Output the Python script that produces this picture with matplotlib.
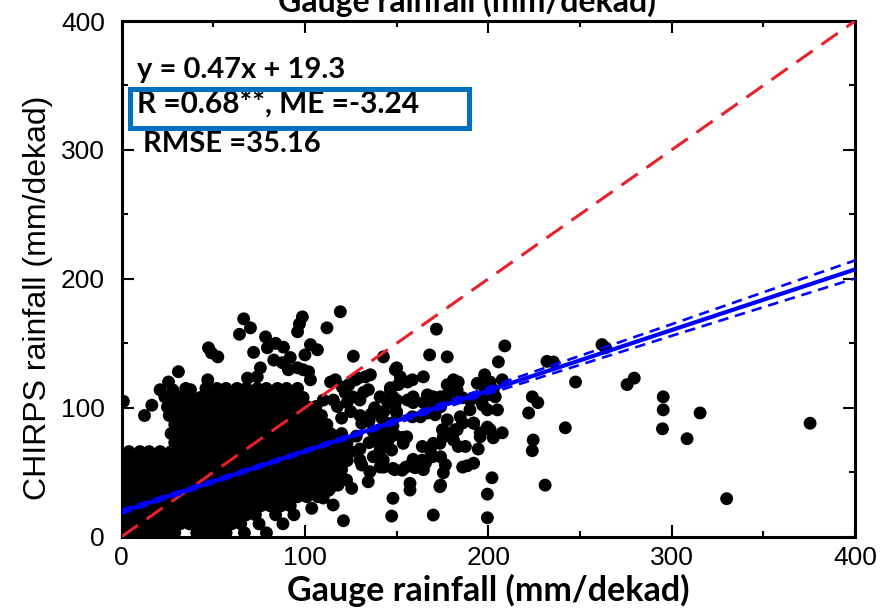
import numpy as np
import matplotlib
matplotlib.use("Agg")
import matplotlib.pyplot as plt
from matplotlib import font_manager
from matplotlib.patches import Rectangle
from matplotlib.ticker import MultipleLocator


# solid part of the cloud: gauge values read along each CHIRPS level (mm/dekad)
core_levels = [3, 10, 17, 24, 31, 38, 45, 52, 59, 66, 73, 80, 87, 94, 101, 108, 115]
core_gauge = [
    [2, 7, 13, 18, 24, 29, 41, 46, 51, 57, 67, 79],
    [4, 10, 15, 21, 27, 32, 37, 43, 48, 54, 60, 65, 75, 88],
    [2, 8, 13, 18, 24, 30, 35, 41, 46, 52, 57, 63, 68, 73, 84, 94],
    [4, 10, 16, 21, 26, 32, 37, 43, 48, 54, 60, 65, 70, 76, 81, 87, 92],
    [2, 7, 13, 18, 24, 29, 35, 40, 46, 52, 57, 62, 68, 74, 79, 85, 90, 96, 101, 107],
    [4, 10, 15, 21, 27, 32, 37, 43, 49, 54, 59, 65, 70, 76, 81, 87, 92, 98, 104, 109, 114],
    [2, 7, 13, 18, 24, 30, 35, 40, 46, 51, 57, 62, 68, 73, 79, 84, 90, 95, 101, 106, 112, 117],
    [4, 10, 15, 21, 26, 32, 38, 43, 48, 54, 60, 65, 71, 76, 81, 87, 93, 98, 103, 109, 114, 120],
    [2, 7, 13, 19, 24, 29, 35, 41, 46, 51, 57, 63, 68, 73, 79, 85, 90, 95, 101, 106, 112, 117, 123],
    [4, 10, 15, 21, 27, 32, 37, 43, 48, 54, 60, 65, 70, 76, 82, 87, 92, 98, 104, 109, 115, 120, 125],
    [29, 35, 40, 46, 51, 57, 62, 68, 74, 79, 84, 90, 95, 101, 107, 112, 118, 123],
    [27, 32, 38, 43, 49, 54, 59, 65, 71, 76, 81, 87, 92, 98, 103, 109, 114, 120],
    [29, 35, 40, 46, 52, 57, 62, 68, 73, 79, 84, 90, 95, 101, 106, 112],
    [26, 32, 37, 43, 48, 54, 59, 65, 70, 76, 82, 87, 93, 98, 104, 109],
    [30, 35, 41, 46, 51, 57, 63, 68, 73, 79, 84, 90, 96, 101, 106],
    [28, 38, 43, 49, 55, 60, 66, 71, 77, 82, 88, 93, 99],
    [35, 46, 52, 57, 63, 68, 74, 79, 85, 90, 96],
]

# single dots around the core (gauge, chirps)
scatter_pts = [
    (1, 105), (12.5, 94), (16.5, 102), (21, 114), (23.6, 108.5), (25.6, 120), (28, 113.8),
    (31.6, 108.5), (25, 100.6), (33, 100), (31, 128), (36, 110), (37.6, 114), (41.4, 106),
    (47, 121.7), (47.4, 146.5), (49, 142.6), (52.5, 139.5), (64.3, 157), (66.6, 169),
    (70.3, 162), (72, 143), (68.7, 123), (74, 124), (75.7, 131), (78.5, 155), (79.5, 146.5),
    (83, 137), (84, 150), (87.7, 135), (88.3, 147), (91, 129.5), (92, 139), (96, 131),
    (96, 159), (97, 165), (98.6, 170.5), (99, 129.5), (100, 141), (102, 128), (103, 149),
    (103, 121.7), (106.8, 145), (112, 162), (119.3, 174.5), (110, 106), (115.5, 106),
    (115.5, 120), (117.7, 101), (114, 120), (116.6, 121.7), (120.4, 116), (122, 111.6),
    (123, 104), (124, 118), (126, 108.5), (126.4, 140), (127.5, 121.7), (129, 123), (130, 106),
    (132, 112), (133, 124), (134.6, 114), (135.7, 125.6), (142.8, 139.5), (149.3, 129.5),
    (150, 131), (152, 124), (146.6, 115.5), (151, 118), (156, 120), (158.6, 121.7),
    (164.6, 124), (145, 106), (150, 106), (156, 106), (159, 108.5), (166.8, 110), (170, 108.5),
    (177.6, 110), (181, 121.7), (183, 114), (171.7, 161), (168, 141), (177.6, 139.5),
    (125, 97), (130, 94), (138, 100), (143, 97), (120, 92), (135, 90), (131, 88), (137, 82),
    (142, 92), (148, 86), (135, 73), (140, 76), (146, 78), (150, 97), (128, 78), (130, 68),
    (136, 95), (130, 59.5), (131, 55.6), (135.4, 50.4), (137.3, 62), (141, 54), (142.7, 59.5),
    (147.3, 67.2), (148, 53), (153, 51.6), (153.6, 72.4), (155.5, 77.5), (158.4, 56.8),
    (164, 59.4), (169.6, 62), (164, 70), (170, 72.4), (173.6, 72.4), (177.6, 80.6), (182, 83),
    (186, 88.2), (192, 88.2), (141, 70), (145.5, 75), (149, 79), (153, 77), (141, 67),
    (143, 54), (149, 52), (155, 54), (159, 60), (160, 53.5), (164.6, 52), (168.4, 67),
    (165.7, 57), (146.6, 114), (148, 108.5), (145, 104.6), (149, 102), (141, 108.5),
    (159, 104), (158.6, 93), (150, 96), (146.6, 88), (143, 83), (164.6, 104), (163, 93),
    (167, 96), (171, 94.6), (170, 101), (168.4, 108.5), (174, 100.8), (175, 83), (175.5, 77.5),
    (174, 62), (176.6, 55.8), (175.5, 49.6), (174, 40), (177.6, 90.7), (184.7, 93), (192, 88),
    (199.5, 98.4), (205, 98.4), (197, 102), (190, 98.4), (183, 83), (181, 75), (183.6, 70),
    (187.5, 70), (195.6, 77.5), (201, 83), (202.7, 76.7), (207.6, 80.6), (199.5, 85),
    (195.6, 80.6), (188.5, 55), (186, 54), (192, 57), (174, 108.5), (179, 107.8), (186, 107.8),
    (190, 106), (195.6, 106), (199.5, 110), (177.6, 117.8), (183.6, 120), (194, 119),
    (198, 115.5), (202.7, 114), (203.8, 108.5), (198, 125.6), (201, 120), (207.6, 121.7),
    (209, 148), (205.5, 135.6), (194.5, 68),
    (103.7, 22), (115.4, 24.6), (121, 12.4), (110, 30), (113, 36), (118, 40), (122.7, 44),
    (125.5, 37.5), (134.5, 42.6), (148, 29.8), (147.3, 16), (157.3, 36.2), (157.3, 41.4),
    (170, 16.8), (173.6, 38.8), (199.5, 14.7), (199.5, 33), (202, 45.7), (231, 40), (330, 29.5),
    (222, 96), (224, 108.5), (227, 104), (224.5, 75), (224, 66.7), (242, 84.5), (232, 136),
    (235.5, 135.5), (247.6, 120), (262, 149), (264, 146.5), (275.7, 118), (279.6, 123),
    (295.4, 108.5), (295.4, 98.4), (295, 83.7), (315.5, 96), (308.4, 76), (375.5, 88),
]

# regression shown in the panel and its confidence band
fit_slope = 0.47
fit_icept = 19.3
band_gauge = [0, 100, 200, 300, 400]
band_half = [1.5, 1.2, 2.5, 4.5, 7.0]

stats_lines = ["y = 0.47x + 19.3", "R =0.68**, ME =-3.24", "RMSE =35.16"]


def have_font(name):
    try:
        font_manager.findfont(font_manager.FontProperties(family=name), fallback_to_default=False)
        return True
    except ValueError:
        return False


narrow = "Liberation Sans Narrow" if have_font("Liberation Sans Narrow") else "Liberation Sans"
tick_size = 22 if narrow == "Liberation Sans Narrow" else 19
bold_font = "Lato" if have_font("Lato") else "DejaVu Sans"

gauge = []
chirps = []
for lev, row in zip(core_levels, core_gauge):
    gauge += row
    chirps += [lev] * len(row)
gauge += [p[0] for p in scatter_pts]
chirps += [p[1] for p in scatter_pts]

fig = plt.figure(figsize=(8.81, 6.11), dpi=100)
ax = fig.add_axes([0.138, 0.1216, 0.8325, 0.844])

ax.scatter(gauge, chirps, s=86, c="black", edgecolors="none", zorder=2)

ax.plot([0, 400], [0, 400], color="#e8202a", lw=2.2, dashes=(6.5, 3.5), zorder=3)

xx = np.array([0, 400])
ax.plot(xx, fit_slope * xx + fit_icept, color="#0000ff", lw=3.0, zorder=4)
bx = np.array(band_gauge)
by = fit_slope * bx + fit_icept
ax.plot(bx, by + np.array(band_half), color="#0000ff", lw=1.9, dashes=(4.0, 2.6), zorder=4)
ax.plot(bx, by - np.array(band_half), color="#0000ff", lw=1.9, dashes=(4.0, 2.6), zorder=4)

ax.set_xlim(0, 400)
ax.set_ylim(0, 400)
ax.xaxis.set_major_locator(MultipleLocator(100))
ax.yaxis.set_major_locator(MultipleLocator(100))
ax.xaxis.set_minor_locator(MultipleLocator(50))
ax.yaxis.set_minor_locator(MultipleLocator(50))
ax.tick_params(which="both", direction="in", top=True, right=True, width=1.5)
ax.tick_params(which="major", length=8.5)
ax.tick_params(which="minor", length=4.5)
ax.tick_params(axis="x", pad=7)
ax.tick_params(axis="y", pad=12)
for lab in ax.get_xticklabels() + ax.get_yticklabels():
    lab.set_fontfamily(narrow)
    lab.set_fontsize(tick_size)
for sp in ax.spines.values():
    sp.set_linewidth(2.2)

# axis titles
fig.text(0.043, 1 - 298 / 611, "CHIRPS rainfall (mm/dekad)", rotation=90,
         ha="center", va="center", fontsize=23, family="Liberation Sans")
fig.text(488 / 881, 1 - 601 / 611, "Gauge rainfall (mm/dekad)", ha="center", va="baseline",
         fontsize=24.5, fontweight="bold", family=bold_font)
# the label of the panel above, cut at the top edge
fig.text(467 / 881, 1 - 12 / 611, "Gauge rainfall (mm/dekad)", ha="center", va="baseline",
         fontsize=23, fontweight="bold", family=bold_font)

# statistics
ax.text(8.3, 356, stats_lines[0], fontsize=21, fontweight="bold", family=bold_font, va="baseline")
ax.text(8.3, 329, stats_lines[1], fontsize=21.5, fontweight="bold", family=bold_font, va="baseline")
ax.text(11.5, 298.5, stats_lines[2], fontsize=21, fontweight="bold", family=bold_font, va="baseline")

fig.add_artist(Rectangle((130 / 881, 1 - 128 / 611), 339 / 881, 39 / 611,
                         transform=fig.transFigure, fill=False,
                         edgecolor="#0070c0", lw=3.6))

fig.savefig("out.png", dpi=100)
